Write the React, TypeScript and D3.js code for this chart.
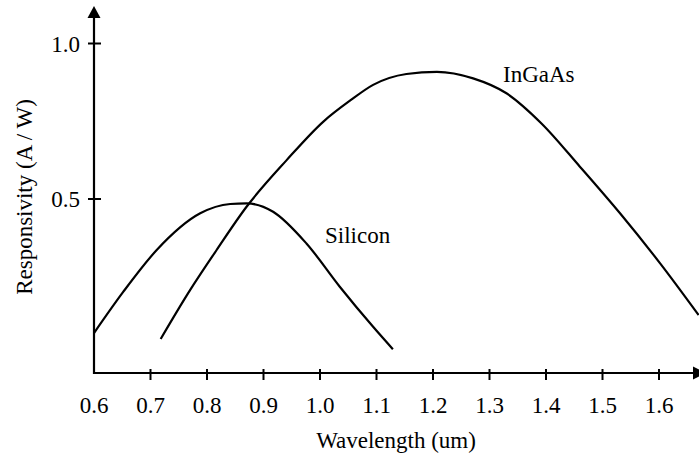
import * as d3 from "d3";

// Silicon photodiode responsivity curve
const siliconWavelength = [0.6, 0.652, 0.711, 0.788, 0.841, 0.87, 0.917, 0.976, 1.035, 1.094, 1.129];
const siliconResp = [0.069, 0.202, 0.336, 0.454, 0.484, 0.486, 0.459, 0.357, 0.218, 0.089, 0.017];

// InGaAs photodiode responsivity curve
const ingaasWavelength = [
  0.718, 0.77, 0.817, 0.87, 0.941, 1.006, 1.053, 1.094, 1.153, 1.207, 1.271, 1.33, 1.392, 1.46, 1.531, 1.602, 1.67,
];
const ingaasResp = [
  0.05, 0.207, 0.336, 0.475, 0.625, 0.749, 0.816, 0.867, 0.902, 0.909, 0.888, 0.84, 0.743, 0.604, 0.454, 0.293, 0.127,
];

const xTicks = [0.6, 0.7, 0.8, 0.9, 1.0, 1.1, 1.2, 1.3, 1.4, 1.5, 1.6];
const yTicks = [0.5, 1.0];

const W = 699;
const H = 455;
const textStyle = { fontFamily: "'Liberation Serif', 'Times New Roman', serif" };

const x = d3.scaleLinear().domain([0.6, 1.6]).range([94, 659]);
const y = d3.scaleLinear().domain([0.5, 1.0]).range([199, 43.5]);
const axisY = 373;
const axisX = x(0.6);

const line = d3
  .line<[number, number]>()
  .x((d) => x(d[0]))
  .y((d) => y(d[1]))
  .curve(d3.curveMonotoneX);

const silicon = siliconWavelength.map((w, i) => [w, siliconResp[i]] as [number, number]);
const ingaas = ingaasWavelength.map((w, i) => [w, ingaasResp[i]] as [number, number]);

export default function App() {
  return (
    <svg width={W} height={H} style={{ position: "absolute", left: 0, top: 0, ...textStyle }}>
      {/* axes */}
      <line x1={axisX} x2={694} y1={axisY} y2={axisY} stroke="#000" strokeWidth={2.2} />
      <line x1={axisX} x2={axisX} y1={axisY + 1} y2={16} stroke="#000" strokeWidth={2.2} />
      <path d={`M${axisX},6 L${axisX - 6.5},18 L${axisX + 6.5},18 Z`} fill="#000" />
      <path d={`M706,${axisY} L693,${axisY - 6.5} L693,${axisY + 6.5} Z`} fill="#000" />

      {/* x ticks */}
      {xTicks.slice(1).map((t) => (
        <line key={t} x1={x(t)} x2={x(t)} y1={axisY - 4} y2={axisY + 7} stroke="#000" strokeWidth={2} />
      ))}
      {xTicks.map((t) => (
        <text key={t} x={x(t)} y={412.5} textAnchor="middle" fontSize={23} style={textStyle}>
          {t.toFixed(1)}
        </text>
      ))}

      {/* y ticks */}
      {yTicks.map((t) => (
        <g key={t}>
          <line x1={axisX - 6} x2={axisX + 7} y1={y(t)} y2={y(t)} stroke="#000" strokeWidth={2} />
          <text x={80} y={y(t) + 8} textAnchor="end" fontSize={23} style={textStyle}>
            {t.toFixed(1)}
          </text>
        </g>
      ))}

      {/* axis titles */}
      <text transform="translate(32,197) rotate(-90)" textAnchor="middle" fontSize={23} style={textStyle}>
        Responsivity (A / W)
      </text>
      <text x={396} y={448} textAnchor="middle" fontSize={23} style={textStyle}>
        Wavelength (um)
      </text>

      {/* curves */}
      <path d={line(silicon) ?? ""} fill="none" stroke="#000" strokeWidth={2.2} />
      <path d={line(ingaas) ?? ""} fill="none" stroke="#000" strokeWidth={2.2} />

      {/* curve labels */}
      <text x={325} y={243} fontSize={23} style={textStyle}>
        Silicon
      </text>
      <text x={503} y={82} fontSize={23} style={textStyle}>
        InGaAs
      </text>
    </svg>
  );
}
